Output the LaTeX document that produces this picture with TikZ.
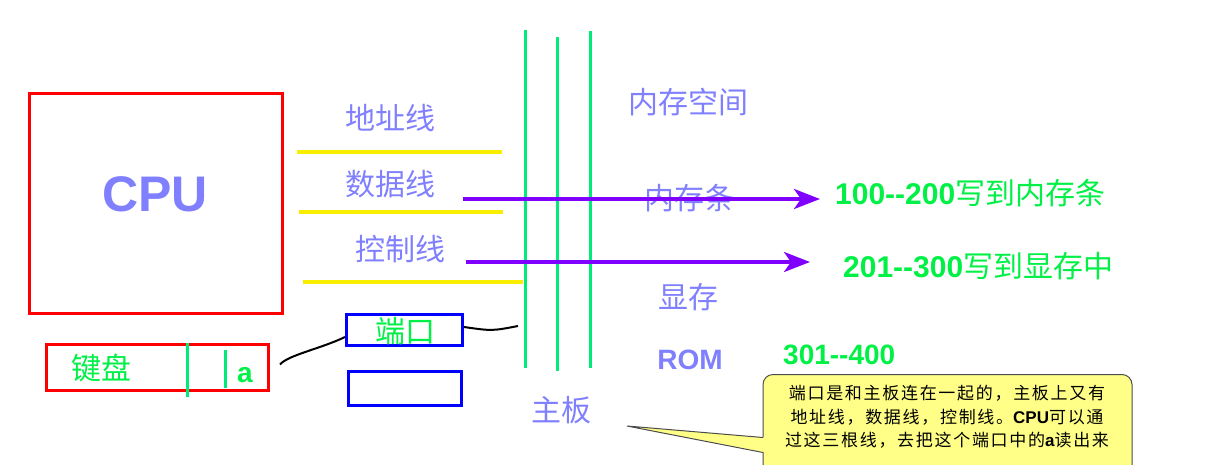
\documentclass[tikz,border=0pt]{standalone}
\usepackage{fontspec}
\newfontfamily\cjk{Noto Sans CJK SC}
\newfontfamily\cjknote[LetterSpace=10]{Noto Sans CJK SC}
\newfontfamily\lat{Liberation Sans}
\usetikzlibrary{arrows.meta,positioning,calc}
\definecolor{boxred}{RGB}{255,0,0}
\definecolor{lav}{RGB}{128,128,255}
\definecolor{busgreen}{RGB}{0,235,120}
\definecolor{txtgreen}{RGB}{0,240,70}
\definecolor{wireyellow}{RGB}{250,238,0}
\definecolor{arrowpurple}{RGB}{127,0,255}
\definecolor{portblue}{RGB}{0,0,255}
\definecolor{notefill}{RGB}{255,255,136}
\tikzset{
  redbox/.style ={draw=boxred,line width=3pt,inner sep=0pt},
  portbox/.style={draw=portblue,line width=3pt,inner sep=0pt},
  buslbl/.style ={text=lav,font=\cjk\fontsize{30}{30}\selectfont,inner sep=0pt},
  grnlbl/.style ={text=txtgreen,font=\cjk\fontsize{30}{30}\selectfont,inner sep=0pt},
  wire/.style   ={wireyellow,line width=4pt},
  busline/.style={busgreen,line width=3pt},
  sendarrow/.style={-{Stealth[length=26pt,width=20pt,inset=7pt]},arrowpurple,line width=3.5pt},
  cable/.style  ={black,line width=2pt},
}

\begin{document}
\begin{tikzpicture}[x=1pt,y=-1pt]
  \clip (0,0) rectangle (1205,464);
  % cpu
  \node[redbox,minimum width=253pt,minimum height=220pt] (cpu) at (156,203.5) {};
  \node[text=lav,font=\lat\bfseries\fontsize{50}{50}\selectfont] (cpulbl) at (155,194) {CPU};
  % wires out of the cpu
  \coordinate (w1a) at (297,152); \coordinate (w1b) at (502,152);
  \coordinate (w2a) at (299,212); \coordinate (w2b) at (503,212);
  \coordinate (w3a) at (303,282); \coordinate (w3b) at (523,282);
  \draw[wire] (w1a) -- (w1b);
  \draw[wire] (w2a) -- (w2b);
  \draw[wire] (w3a) -- (w3b);
  \node[buslbl] (addr) at (390,118) {地址线};
  \node[buslbl] (data) at (390,184) {数据线};
  \node[buslbl] (ctrl) at (400,249) {控制线};
  % motherboard
  \foreach \x/\ya/\yb in {525/30/368,557/37/371,590/31/368}
    \draw[busline] (\x,\ya) -- (\x,\yb);
  \node[buslbl] (board) at (561,410) {主板};
  % memory space
  \node[buslbl] (space) at (688,102) {内存空间};
  \node[buslbl] (ram) at (689,198) {内存条};
  \node[buslbl] (vram) at (688,297) {显存};
  \node[buslbl,font=\lat\bfseries\fontsize{28}{28}\selectfont] (rom) at (690,360) {ROM};
  \node[grnlbl,anchor=west] (r1) at (835,193) {{\lat\bfseries 100-{}-200}写到内存条};
  \node[grnlbl,anchor=west] (r2) at (843,266) {{\lat\bfseries 201-{}-300}写到显存中};
  \node[grnlbl,anchor=west,font=\lat\bfseries\fontsize{28}{28}\selectfont] (r3) at (783,355) {301-{}-400};
  \coordinate (a1) at (463,199);
  \coordinate (a2) at (466,262);
  \draw[sendarrow,shorten >=15pt] (a1) -- (r1.west |- a1);
  \draw[sendarrow,shorten >=33pt] (a2) -- (r2.west |- a2);
  % keyboard
  \node[redbox,minimum width=222pt,minimum height=46pt] (kbd) at (157.5,367.5) {};
  \node[grnlbl] (kbdlbl) at (101,368) {键盘};
  \draw[busline] (187,343) -- (187,397);
  \draw[busline] (225,350) -- (225,388);
  \node[grnlbl,font=\lat\bfseries\fontsize{28}{28}\selectfont] (akey) at (245,375) {a};
  % ports
  \node[portbox,minimum width=116pt,minimum height=31pt] (port) at (404.5,330) {};
  \node[grnlbl] (portlbl) at (405,331) {端口};
  \node[portbox,minimum width=113pt,minimum height=34pt,below=23pt of port] (slot) {};
  \coordinate (pe) at (518,326);
  \draw[cable] ($(kbd.east)+(10,-3)$) .. controls (288,355) and (320,349) .. ($(port.west)+(0,7)$);
  \draw[cable] ($(port.east)+(0,-3)$) .. controls (492,331) .. (pe);
  % note
  \node[draw=black!70,fill=notefill,rounded corners=10pt,line width=1pt,
        minimum width=369pt,minimum height=110pt,anchor=north] (note) at (947.5,374) {};
  \coordinate (tip) at (627,426);
  \fill[notefill] (tip) -- ($(note.west)+(3,8)$) -- ($(note.west)+(3,23)$) -- cycle;
  \draw[black!70,line width=1pt] ($(note.west)+(0.5,8)$) -- (tip) -- ($(note.west)+(0.5,23)$);
  \node[font=\cjknote\fontsize{17}{23.5}\selectfont,align=center] (notetxt) at (947,417)
    {端口是和主板连在一起的，主板上又有\\地址线，数据线，控制线。{\lat\bfseries CPU}可以通\\过这三根线，去把这个端口中的{\lat\bfseries a}读出来};
\end{tikzpicture}
\end{document}
